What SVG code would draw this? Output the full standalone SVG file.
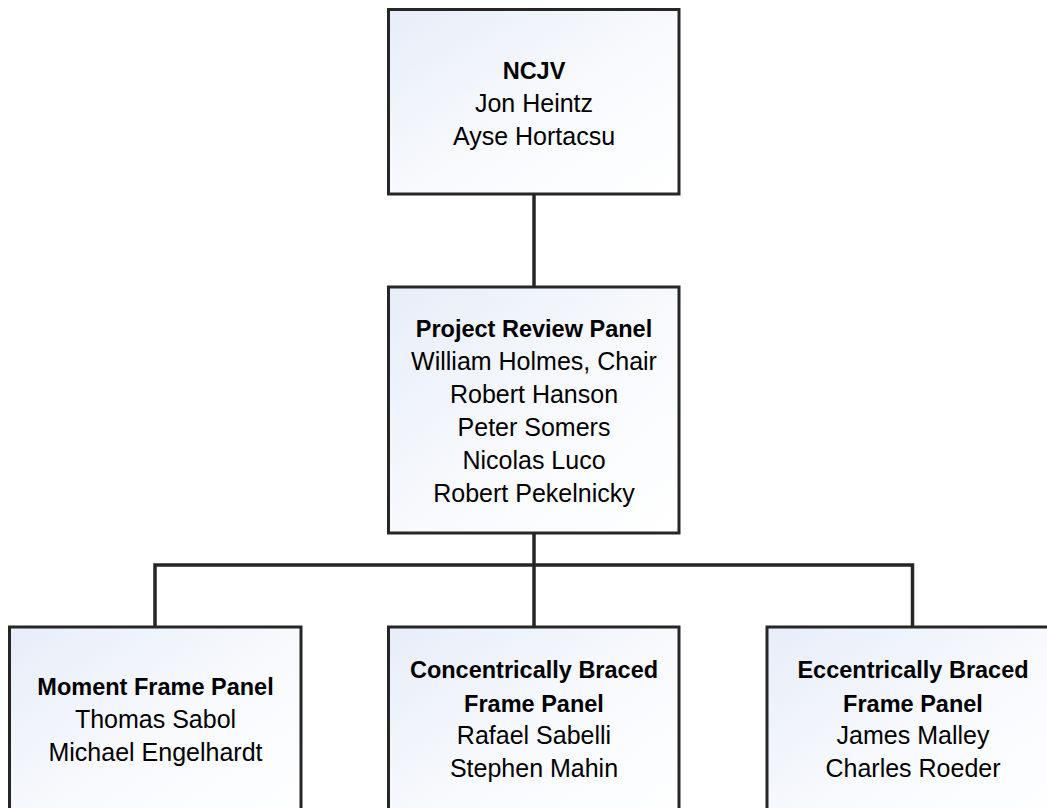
<svg xmlns="http://www.w3.org/2000/svg" width="1047" height="808" viewBox="0 0 1047 808">
  <defs>
    <linearGradient id="fill" x1="0" y1="0" x2="1" y2="1">
      <stop offset="0" stop-color="#e7edf8"/>
      <stop offset="0.55" stop-color="#f8fafd"/>
      <stop offset="1" stop-color="#ffffff"/>
    </linearGradient>
    <style>
      .box { fill: url(#fill); stroke: #262626; stroke-width: 3; }
      .conn { fill: none; stroke: #262626; stroke-width: 3.5; }
      text { font-family: "Liberation Sans", Arial, sans-serif; font-size: 25px; fill: #000; text-anchor: middle; }
      .b { font-weight: bold; font-size: 23.5px; }
    </style>
  </defs>
  <rect width="1047" height="808" fill="#ffffff"/>
  <g id="connectors">
    <line class="conn" x1="534" y1="194" x2="534" y2="287"/>
    <line class="conn" x1="534" y1="533" x2="534" y2="627"/>
    <polyline class="conn" points="155,627 155,565 912.5,565 912.5,627"/>
  </g>
  <g id="ncjv">
    <rect class="box" x="388.5" y="9.5" width="290.5" height="184.5"/>
    <text class="b" x="534" y="79">NCJV</text>
    <text x="534" y="112">Jon Heintz</text>
    <text x="534" y="145">Ayse Hortacsu</text>
  </g>
  <g id="project-review-panel">
    <rect class="box" x="388.5" y="287" width="290.5" height="246"/>
    <text class="b" x="534" y="337">Project Review Panel</text>
    <text x="534" y="370">William Holmes, Chair</text>
    <text x="534" y="403">Robert Hanson</text>
    <text x="534" y="436">Peter Somers</text>
    <text x="534" y="469">Nicolas Luco</text>
    <text x="534" y="502">Robert Pekelnicky</text>
  </g>
  <g id="moment-frame-panel">
    <rect class="box" x="9.5" y="627" width="291.5" height="200"/>
    <text class="b" x="155.5" y="695">Moment Frame Panel</text>
    <text x="155.5" y="728">Thomas Sabol</text>
    <text x="155.5" y="761">Michael Engelhardt</text>
  </g>
  <g id="concentrically-braced-frame-panel">
    <rect class="box" x="388.5" y="627" width="290.5" height="200"/>
    <text class="b" x="534" y="678">Concentrically Braced</text>
    <text class="b" x="534" y="712">Frame Panel</text>
    <text x="534" y="744">Rafael Sabelli</text>
    <text x="534" y="777">Stephen Mahin</text>
  </g>
  <g id="eccentrically-braced-frame-panel">
    <rect class="box" x="767" y="627" width="291.5" height="200"/>
    <text class="b" x="913" y="678">Eccentrically Braced</text>
    <text class="b" x="913" y="712">Frame Panel</text>
    <text x="913" y="744">James Malley</text>
    <text x="913" y="777">Charles Roeder</text>
  </g>
</svg>
